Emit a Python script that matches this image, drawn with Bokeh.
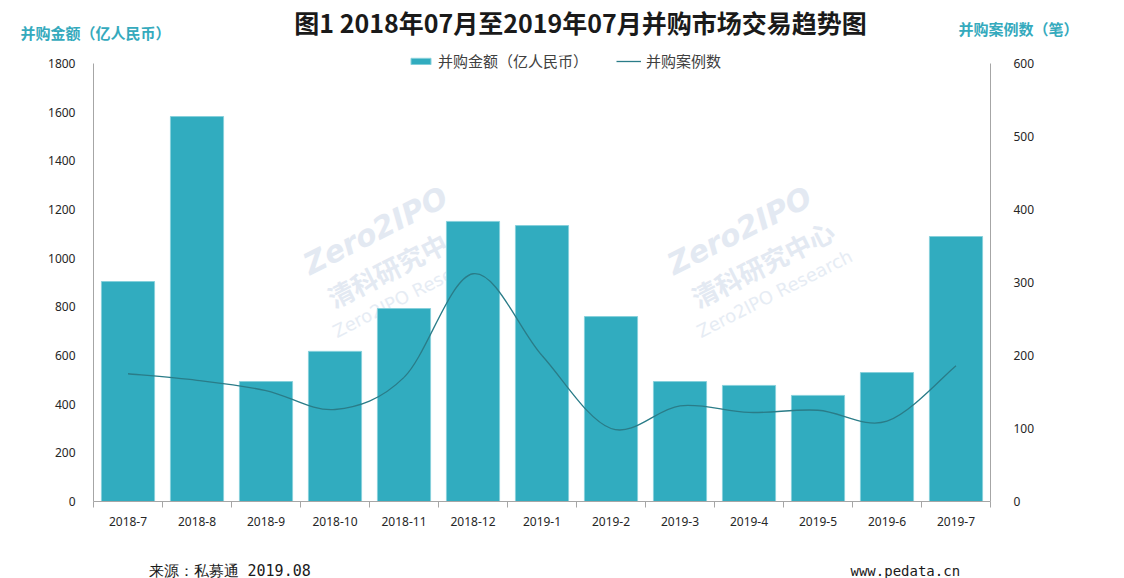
from bokeh.plotting import figure
from bokeh.layouts import column
from bokeh.models import Range1d, LinearAxis, FixedTicker, Label, Legend, LegendItem
from bokeh.embed import file_html
from bokeh.resources import INLINE

months = ["2018-7", "2018-8", "2018-9", "2018-10", "2018-11", "2018-12", "2019-1",
          "2019-2", "2019-3", "2019-4", "2019-5", "2019-6", "2019-7"]
amount = [904, 1582, 493, 617, 793, 1151, 1134, 760, 493, 477, 436, 530, 1089]
cases = [175, 166, 152, 126, 170, 312, 200, 100, 131, 122, 125, 110, 186]
left_ticks = [0, 200, 400, 600, 800, 1000, 1200, 1400, 1600, 1800]
right_ticks = [0, 100, 200, 300, 400, 500, 600]

BAR = "#31acbf"
LINE = "#2a7c88"
TEAL_TXT = "#35aabd"
AX = "#a6a6a6"
W = 1124

n = len(months)
xs = list(range(n))

# ---------------- header (title + axis titles) ----------------
HH = 48
head = figure(width=W, height=HH, output_backend="svg", toolbar_location=None,
              x_range=Range1d(0, W), y_range=Range1d(HH, 0),
              x_axis_location=None, y_axis_location=None, min_border=0)
head.frame_align = False
head.outline_line_color = None
head.grid.visible = False
head.add_layout(Label(x=580, y=21, text="图1 2018年07月至2019年07月并购市场交易趋势图",
                      text_font="Noto Sans CJK SC", text_font_style="bold",
                      text_font_size="25px", text_color="#1a1a1a",
                      text_align="center", text_baseline="middle"))
head.add_layout(Label(x=20, y=32, text="并购金额（亿人民币）",
                      text_font="Noto Sans CJK SC", text_font_style="bold",
                      text_font_size="15px", text_color=TEAL_TXT,
                      text_align="left", text_baseline="middle"))
head.add_layout(Label(x=958, y=28, text="并购案例数（笔）",
                      text_font="Noto Sans CJK SC", text_font_style="bold",
                      text_font_size="15px", text_color=TEAL_TXT,
                      text_align="left", text_baseline="middle"))

# ---------------- main chart ----------------
FL, FR, FT, FB = 93, 990, 48, 501   # frame, page pixels
Y0 = 501                            # pixel of value 0
Y1800 = 63                          # pixel of value 1800
MB = 545                            # bottom of main figure (page px)
ymax = 1800 * (FB - FT) / (Y0 - Y1800)
p = figure(width=W, height=MB - HH, output_backend="svg", toolbar_location=None,
           x_range=Range1d(-0.5, n - 0.5), y_range=Range1d(0, ymax),
           min_border_left=FL, min_border_right=W - FR, min_border_top=FT - HH,
           min_border_bottom=MB - FB)
p.frame_align = False
p.outline_line_color = None
p.xgrid.visible = False
p.ygrid.visible = False
p.extra_y_ranges = {"right": Range1d(0, ymax / 3)}

def dx(px):
    return -0.5 + (px - FL) / (FR - FL) * n

def dy(py):
    return (Y0 - py) / (Y0 - Y1800) * 1800

# watermarks (underlay)
for off in [0, 364]:
    p.add_layout(Label(x=dx(375 + off), y=dy(230), text="Zero2IPO", angle=0.47,
                       text_font="DejaVu Sans", text_font_style="bold italic",
                       text_font_size="30px", text_color="#e3e9f2",
                       text_align="center", text_baseline="middle", level="underlay"))
    p.add_layout(Label(x=dx(398 + off), y=dy(263), text="清科研究中心", angle=0.47,
                       text_font="Noto Sans CJK SC", text_font_style="bold",
                       text_font_size="26px", text_color="#e3e9f2",
                       text_align="center", text_baseline="middle", level="underlay"))
    p.add_layout(Label(x=dx(410 + off), y=dy(293), text="Zero2IPO Research", angle=0.47,
                       text_font="DejaVu Sans",
                       text_font_size="18px", text_color="#e6ecf4",
                       text_align="center", text_baseline="middle", level="underlay"))

bars = p.vbar(x=xs, top=amount, width=0.77, fill_color=BAR, line_color="#86d0db",
              line_width=1)

# smooth line (Excel-style cubic Bezier through the data points)
def pt(i):
    i = max(0, min(n - 1, i))
    return xs[i], cases[i]

bx0, by0, bx1, by1, bcx0, bcy0, bcx1, bcy1 = [], [], [], [], [], [], [], []
for i in range(n - 1):
    xa, ya = pt(i)
    xb, yb = pt(i + 1)
    xp, yp = pt(i - 1)
    xn, yn = pt(i + 2)
    bx0.append(xa); by0.append(ya)
    bx1.append(xb); by1.append(yb)
    bcx0.append(xa + (xb - xp) / 6); bcy0.append(ya + (yb - yp) / 6)
    bcx1.append(xb - (xn - xa) / 6); bcy1.append(yb - (yn - ya) / 6)
p.bezier(x0=bx0, y0=by0, x1=bx1, y1=by1, cx0=bcx0, cy0=bcy0, cx1=bcx1, cy1=bcy1,
         y_range_name="right", line_color=LINE, line_width=1.3)
# single-point proxy (draws nothing on the chart) for the legend swatch
proxy = p.line(x=xs[:1], y=cases[:1], y_range_name="right", line_color=LINE, line_width=1.3)

# axes
xa = p.xaxis[0]
xa.ticker = FixedTicker(ticks=xs, minor_ticks=[i - 0.5 for i in range(n + 1)])
xa.major_label_overrides = {i: m for i, m in enumerate(months)}
xa.major_tick_line_color = None
xa.minor_tick_line_color = AX
xa.minor_tick_out = 6
xa.minor_tick_in = 0
xa.axis_line_color = AX
xa.major_label_standoff = 9
xa.major_label_text_font = "Noto Sans"
xa.major_label_text_font_size = "12px"
xa.major_label_text_color = "#262626"

ya = p.yaxis[0]
ya.ticker = FixedTicker(ticks=left_ticks)
ya.bounds = (0, 1800)
ya.major_tick_line_color = None
ya.minor_tick_line_color = None
ya.axis_line_color = AX
ya.major_label_standoff = 12
ya.major_label_text_font = "Noto Sans"
ya.major_label_text_font_size = "12px"
ya.major_label_text_color = "#262626"

ra = LinearAxis(y_range_name="right", ticker=FixedTicker(ticks=right_ticks), bounds=(0, 600))
ra.major_tick_line_color = None
ra.minor_tick_line_color = None
ra.axis_line_color = AX
ra.major_label_standoff = 17
ra.major_label_text_font = "Noto Sans"
ra.major_label_text_font_size = "12px"
ra.major_label_text_color = "#262626"
p.add_layout(ra, "right")

# legend (inside frame, near its top)
legend = Legend(items=[LegendItem(label="并购金额（亿人民币）", renderers=[bars]),
                       LegendItem(label="并购案例数", renderers=[proxy])],
                orientation="horizontal", location=(315, 430),
                border_line_color=None, background_fill_alpha=0,
                label_text_font="Noto Sans CJK SC", label_text_font_size="15px",
                label_text_color="#404040", glyph_width=25, glyph_height=8,
                spacing=28, padding=0, margin=0, label_standoff=5)
p.add_layout(legend, "center")

# ---------------- footer ----------------
FH = 578 - MB
foot = figure(width=W, height=FH, output_backend="svg", toolbar_location=None,
              x_range=Range1d(0, W), y_range=Range1d(FH, 0),
              x_axis_location=None, y_axis_location=None, min_border=0)
foot.frame_align = False
foot.outline_line_color = None
foot.grid.visible = False
foot.add_layout(Label(x=148, y=570 - MB, text="来源：私募通 2019.08",
                      text_font="DejaVu Sans Mono", text_font_size="15px",
                      text_color="#1a1a1a", text_align="left", text_baseline="middle"))
foot.add_layout(Label(x=850, y=570 - MB, text="www.pedata.cn",
                      text_font="DejaVu Sans Mono", text_font_size="14px",
                      text_color="#1a1a1a", text_align="left", text_baseline="middle"))

page = column(head, p, foot, spacing=0)
open("out.html", "w").write(file_html(page, INLINE))
